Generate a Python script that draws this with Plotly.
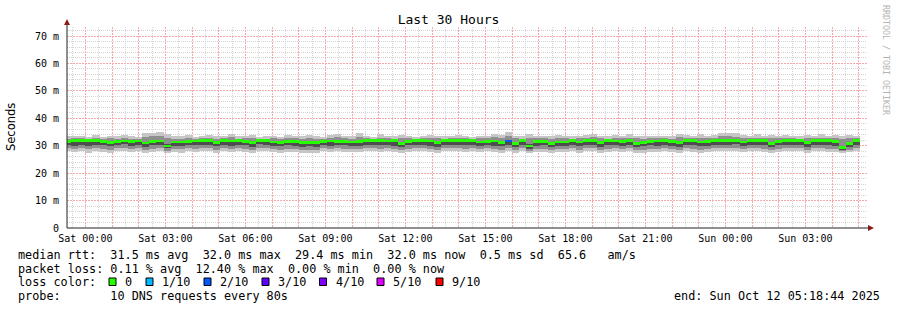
import datetime as dt
import plotly.graph_objects as go

# ---------------- data ----------------
TITLE = "Last 30 Hours"
Y_LABEL = "Seconds"
END_TIME = dt.datetime(2025, 10, 12, 5, 18, 44)
START_TIME = dt.datetime(2025, 10, 10, 23, 18, 44)
FIRST_BIN = dt.datetime(2025, 10, 10, 23, 12)
BIN_MINUTES = 16

# median rtt per 16-minute bin (ms)
median = [
    31.6, 31.9, 31.9, 32.0, 31.9, 31.6, 31.3, 31.6, 31.7, 31.6,
    31.7, 31.0, 31.6, 31.7, 29.9, 31.4, 31.4, 31.6, 31.7, 31.9,
    31.9, 31.1, 31.8, 31.7, 31.8, 31.5, 31.1, 32.0, 32.0, 31.4,
    31.3, 31.6, 31.6, 31.2, 31.2, 31.2, 31.6, 31.7, 31.6, 31.5,
    31.4, 31.5, 32.0, 31.8, 31.9, 31.7, 31.8, 30.8, 31.6, 31.9,
    31.8, 31.7, 31.1, 31.9, 31.9, 31.8, 32.0, 31.8, 31.4, 31.6,
    31.7, 31.2, 31.7, 30.8, 31.9, 29.9, 31.6, 31.6, 30.8, 31.4,
    31.4, 31.9, 31.4, 31.9, 31.8, 31.1, 31.8, 31.7, 31.6, 31.8,
    30.9, 31.2, 31.6, 31.7, 31.8, 31.6, 31.1, 31.9, 31.9, 31.4,
    31.6, 31.9, 32.0, 32.0, 31.9, 31.4, 31.9, 31.9, 31.8, 30.8,
    31.6, 31.9, 31.9, 31.8, 31.1, 31.9, 31.9, 31.9, 31.5, 29.4,
    30.8, 32.0,
]
# lost pings (out of 10) per bin
loss = [
    0, 0, 0, 0, 0, 0, 0, 0, 0, 0,
    0, 0, 0, 0, 0, 0, 0, 0, 0, 0,
    0, 0, 0, 0, 0, 0, 0, 0, 0, 0,
    0, 0, 0, 0, 0, 0, 0, 0, 0, 0,
    0, 0, 0, 0, 0, 0, 0, 0, 0, 0,
    0, 0, 0, 0, 0, 0, 0, 0, 0, 0,
    0, 0, 2, 0, 0, 0, 0, 0, 0, 0,
    0, 0, 0, 0, 0, 0, 0, 0, 0, 0,
    0, 0, 0, 0, 0, 0, 0, 0, 0, 0,
    0, 0, 0, 0, 0, 0, 0, 0, 0, 0,
    0, 0, 0, 0, 0, 0, 0, 0, 0, 0,
    0, 0,
]
# smoke: outer (min/max), middle, inner rtt spread per bin (ms)
smoke_max = [
    33.4, 33.6, 33.5, 33.2, 33.8, 33.3, 33.6, 33.4, 33.9, 33.5,
    33.3, 34.6, 34.8, 34.9, 34.2, 33.5, 33.4, 33.8, 33.3, 33.6,
    34.0, 33.5, 33.7, 34.3, 33.4, 33.6, 33.8, 33.2, 33.5, 33.7,
    33.3, 34.0, 33.6, 33.4, 33.9, 33.5, 33.3, 33.8, 34.2, 33.6,
    33.4, 34.5, 33.5, 33.3, 34.2, 33.6, 33.4, 33.9, 33.5, 33.3,
    33.7, 34.0, 33.6, 33.4, 33.5, 33.8, 33.6, 33.3, 33.5, 33.6,
    34.3, 33.8, 34.9, 33.6, 33.5, 34.2, 33.5, 33.7, 33.4, 33.8,
    33.6, 33.4, 33.5, 33.9, 34.3, 33.6, 33.4, 33.8, 33.5, 34.1,
    33.6, 33.4, 33.7, 33.5, 33.6, 33.4, 34.3, 33.8, 33.5, 34.2,
    33.6, 34.0, 34.6, 34.8, 34.5, 33.9, 33.7, 34.1, 33.5, 33.8,
    33.6, 33.9, 33.7, 33.4, 33.8, 33.5, 34.1, 33.6, 33.9, 33.5,
    33.8, 33.6,
]
smoke_hi = [
    32.6, 32.8, 32.7, 32.5, 32.9, 32.6, 32.7, 32.4, 32.8, 32.6,
    32.5, 33.2, 33.4, 33.5, 32.9, 32.6, 32.5, 32.8, 32.6, 32.7,
    32.9, 32.5, 32.8, 33.1, 32.6, 32.7, 32.8, 32.4, 32.6, 32.8,
    32.5, 33.0, 32.7, 32.6, 32.9, 32.6, 32.5, 32.8, 33.1, 32.7,
    32.5, 33.2, 32.7, 32.5, 33.0, 32.8, 32.6, 32.9, 32.7, 32.6,
    32.8, 33.0, 32.7, 32.6, 32.7, 32.9, 32.8, 32.5, 32.7, 32.8,
    33.1, 32.8, 33.5, 32.7, 32.6, 33.0, 32.7, 32.8, 32.6, 32.9,
    32.7, 32.6, 32.7, 32.9, 33.2, 32.7, 32.6, 32.9, 32.7, 33.0,
    32.7, 32.6, 32.8, 32.7, 32.8, 32.6, 33.2, 32.9, 32.7, 33.0,
    32.8, 33.0, 33.4, 33.5, 33.3, 32.9, 32.8, 33.0, 32.7, 32.9,
    32.7, 32.9, 32.8, 32.6, 32.9, 32.7, 33.0, 32.8, 32.9, 32.4,
    32.8, 32.7,
]
smoke_ihi = [
    31.9, 32.1, 32.1, 32.2, 32.1, 31.9, 31.7, 31.9, 32.0, 31.9,
    32.0, 31.5, 31.9, 32.0, 30.6, 31.7, 31.7, 31.9, 32.0, 32.1,
    32.1, 31.5, 32.0, 32.0, 32.0, 31.8, 31.5, 32.2, 32.2, 31.7,
    31.6, 31.9, 31.9, 31.5, 31.6, 31.5, 31.9, 32.0, 31.9, 31.8,
    31.7, 31.8, 32.2, 32.0, 32.1, 32.0, 32.0, 31.2, 31.9, 32.1,
    32.0, 32.0, 31.5, 32.1, 32.1, 32.0, 32.2, 32.0, 31.7, 31.9,
    32.0, 31.6, 32.0, 31.2, 32.1, 30.5, 31.9, 31.9, 31.2, 31.7,
    31.7, 32.1, 31.7, 32.1, 32.0, 31.5, 32.0, 32.0, 31.9, 32.0,
    31.3, 31.6, 31.9, 32.0, 32.0, 31.9, 31.5, 32.1, 32.1, 31.7,
    31.9, 32.1, 32.2, 32.2, 32.1, 31.7, 32.1, 32.1, 32.0, 31.2,
    31.9, 32.1, 32.1, 32.0, 31.5, 32.1, 32.1, 32.1, 31.8, 30.0,
    31.2, 32.2,
]
smoke_ilo = [
    30.2, 30.0, 30.4, 29.9, 30.3, 30.1, 29.8, 30.2, 30.5, 30.0,
    30.3, 29.7, 30.1, 30.2, 29.0, 30.0, 29.9, 30.3, 30.1, 30.4,
    30.2, 29.8, 30.3, 30.0, 30.4, 30.1, 29.7, 30.5, 30.2, 29.9,
    29.8, 30.1, 29.9, 29.6, 29.8, 29.7, 30.2, 30.0, 30.3, 30.1,
    29.9, 30.0, 30.4, 30.2, 30.1, 30.3, 30.0, 29.4, 30.1, 30.3,
    30.2, 30.0, 29.7, 30.4, 30.2, 30.3, 30.1, 30.4, 29.9, 30.2,
    30.0, 29.8, 30.3, 29.5, 30.2, 28.9, 30.0, 30.1, 29.4, 29.9,
    30.0, 30.3, 29.8, 30.2, 30.4, 29.7, 30.1, 30.3, 30.0, 30.2,
    29.6, 29.8, 30.1, 29.9, 30.2, 30.0, 29.5, 30.3, 30.1, 29.8,
    30.0, 30.2, 30.4, 30.3, 30.5, 29.9, 30.2, 30.3, 30.1, 29.5,
    30.1, 30.3, 30.2, 30.4, 29.7, 30.2, 30.3, 30.1, 30.0, 28.6,
    29.6, 30.3,
]
smoke_lo = [
    29.0, 28.8, 29.2, 28.7, 29.1, 28.9, 28.6, 29.0, 29.3, 28.8,
    29.1, 28.5, 28.9, 29.0, 28.2, 28.8, 28.7, 29.1, 28.9, 29.2,
    29.0, 28.6, 29.1, 28.8, 29.2, 28.9, 28.5, 29.3, 29.0, 28.7,
    28.6, 28.9, 28.7, 28.4, 28.6, 28.5, 29.0, 28.8, 29.1, 28.9,
    28.7, 28.8, 29.2, 29.0, 28.9, 29.1, 28.8, 28.4, 28.9, 29.1,
    29.0, 28.8, 28.5, 29.2, 29.0, 29.1, 28.9, 29.2, 28.7, 29.0,
    28.8, 28.6, 29.1, 28.4, 29.0, 28.0, 28.8, 28.9, 28.3, 28.7,
    28.8, 29.1, 28.6, 29.0, 29.2, 28.5, 28.9, 29.1, 28.8, 29.0,
    28.4, 28.6, 28.9, 28.7, 29.0, 28.8, 28.3, 29.1, 28.9, 28.6,
    28.8, 29.0, 29.2, 29.1, 29.3, 28.7, 29.0, 29.1, 28.9, 28.4,
    28.9, 29.1, 29.0, 29.2, 28.5, 29.0, 29.1, 28.9, 28.8, 27.9,
    28.6, 29.1,
]
smoke_min = [
    27.9, 27.7, 28.1, 27.5, 28.0, 27.8, 27.4, 27.9, 28.2, 27.7,
    28.0, 27.3, 27.8, 27.9, 27.3, 27.7, 27.5, 28.0, 27.8, 28.1,
    27.9, 27.5, 28.0, 27.6, 28.1, 27.8, 27.4, 28.2, 27.9, 27.6,
    27.5, 27.8, 27.6, 27.3, 27.5, 27.4, 27.9, 27.7, 28.0, 27.8,
    27.6, 27.7, 28.1, 27.9, 27.8, 28.0, 27.7, 27.4, 27.8, 28.0,
    27.9, 27.7, 27.4, 28.1, 27.9, 28.0, 27.8, 28.1, 27.6, 27.9,
    27.7, 27.5, 28.0, 27.4, 27.9, 27.2, 27.7, 27.8, 27.3, 27.6,
    27.7, 28.0, 27.5, 27.9, 28.1, 27.4, 27.8, 28.0, 27.7, 27.9,
    27.4, 27.5, 27.8, 27.6, 27.9, 27.7, 27.3, 28.0, 27.8, 27.5,
    27.7, 27.9, 28.1, 28.0, 28.2, 27.6, 27.9, 28.0, 27.8, 27.4,
    27.8, 28.0, 27.9, 28.1, 27.4, 27.9, 28.0, 27.8, 27.7, 27.2,
    27.6, 28.0,
]

y_tick_vals = [0, 10, 20, 30, 40, 50, 60, 70]
y_tick_text = ["0", "10 m", "20 m", "30 m", "40 m", "50 m", "60 m", "70 m"]
Y_MAX = 73.3

loss_labels = ["0", "1/10", "2/10", "3/10", "4/10", "5/10", "9/10"]
loss_levels = [0, 1, 2, 3, 4, 5, 9]
loss_colors = ["#26ff00", "#00b8ff", "#0059ff", "#5e00ff", "#7e00ff", "#dd00ff", "#ff0000"]

stats_rtt = "median rtt:  31.5 ms avg  32.0 ms max  29.4 ms min  32.0 ms now  0.5 ms sd  65.6   am/s"
stats_loss = "packet loss: 0.11 % avg  12.40 % max  0.00 % min  0.00 % now"
loss_head = "loss color:"
probe_text = "probe:       10 DNS requests every 80s"
end_text = "end: Sun Oct 12 05:18:44 2025"
credit = "RRDTOOL / TOBI OETIKER"

# ---------------- layout constants ----------------
W, H = 897, 310
PL, PR, PT, PB = 67, 867, 27, 228   # plot area in pixels
MONO = "DejaVu Sans Mono"


def fx(px):
    return (px - PL) / (PR - PL)


def fy(py):
    return (PB - py) / (PB - PT)


def nb(s):
    return s.replace(" ", "\u00a0")


n = len(median)
bin_w = dt.timedelta(minutes=BIN_MINUTES)
centers = [FIRST_BIN + bin_w * i + bin_w / 2 for i in range(n)]
width_ms = BIN_MINUTES * 60 * 1000

color_of = dict(zip(loss_levels, loss_colors))

# grid positions (minor ones avoid the major positions)
first_hour = dt.datetime(2025, 10, 11, 0, 0)
hour_grid = [first_hour + dt.timedelta(hours=h) for h in range(-1, 30)]
half_grid = [t + dt.timedelta(minutes=30) for t in hour_grid] + [first_hour - dt.timedelta(minutes=30)]
y_minor = [v for v in range(0, 74, 2) if v % 10 != 0]

fig = go.Figure()


def band(lo, hi, color):
    fig.add_trace(go.Bar(
        x=centers, base=lo, y=[h - l for l, h in zip(lo, hi)],
        width=width_ms, marker=dict(color=color, line=dict(width=0)),
        hoverinfo="skip", showlegend=False,
    ))


band(smoke_min, smoke_max, "#c6c6c6")
band(smoke_lo, smoke_hi, "#8f8f8f")
band(smoke_ilo, smoke_ihi, "#4e4e4e")

MED_H = 1.0
fig.add_trace(go.Bar(
    x=centers, base=[m - MED_H / 2 for m in median], y=[MED_H] * n,
    width=width_ms,
    marker=dict(color=[color_of[l] for l in loss], line=dict(width=0)),
    hoverinfo="skip", showlegend=False,
))

# helper trace for the grid axis
fig.add_trace(go.Scatter(x=[START_TIME, END_TIME], y=[0, 0], xaxis="x2",
                         mode="markers", marker=dict(opacity=0),
                         hoverinfo="skip", showlegend=False))

MAJ = "#f5aaaa"
MIN = "#d4d4d4"
MAJ_DASH = "2px,1px"
MIN_DASH = "1px,1px"

fig.update_layout(
    width=W, height=H,
    margin=dict(l=PL, r=W - PR, t=PT, b=H - PB),
    paper_bgcolor="white", plot_bgcolor="white",
    barmode="overlay", bargap=0,
    title=dict(text=TITLE, x=0.5, xanchor="center", xref="container",
               y=1 - 19 / H, yanchor="middle", yref="container",
               font=dict(family=MONO, size=13, color="black")),
    xaxis=dict(type="date", range=[START_TIME, END_TIME],
               tickformat="%a %H:%M", dtick=3 * 3600 * 1000,
               tick0="2025-10-11 00:00:00",
               showgrid=False, zeroline=False, showline=False,
               ticks="", ticklabelstandoff=3,
               tickfont=dict(family=MONO, size=10, color="black"),
               fixedrange=True),
    xaxis2=dict(type="date", range=[START_TIME, END_TIME], overlaying="x",
                anchor="y", side="bottom", showticklabels=False, ticks="",
                tickmode="array", tickvals=hour_grid,
                showgrid=True, gridcolor=MAJ, griddash=MAJ_DASH, gridwidth=1,
                minor=dict(tickmode="array", tickvals=half_grid,
                           showgrid=True, gridcolor=MIN, griddash=MIN_DASH, gridwidth=1),
                zeroline=False, showline=False),
    yaxis=dict(range=[0, Y_MAX], tickvals=y_tick_vals, ticktext=y_tick_text,
               showgrid=True, gridcolor=MAJ, griddash=MAJ_DASH, gridwidth=1,
               minor=dict(tickmode="array", tickvals=y_minor,
                          showgrid=True, gridcolor=MIN, griddash=MIN_DASH, gridwidth=1),
               zeroline=False, showline=False, ticks="", ticklabelstandoff=7,
               tickfont=dict(family=MONO, size=10, color="black")),
)

shapes = []
# axis lines (extended past the plot area like rrdtool)
shapes.append(dict(type="line", xref="paper", yref="paper",
                   x0=fx(PL), x1=fx(871), y0=0, y1=0,
                   line=dict(color="#222222", width=1)))
shapes.append(dict(type="line", xref="paper", yref="paper",
                   x0=0, x1=0, y0=0, y1=fy(21),
                   line=dict(color="#222222", width=1)))
# arrow heads
shapes.append(dict(type="path", xref="paper", yref="paper",
                   path=f"M {fx(64)} {fy(25)} L {fx(70)} {fy(25)} L {fx(67)} {fy(19)} Z",
                   fillcolor="#8b1a1a", line=dict(width=0)))
shapes.append(dict(type="path", xref="paper", yref="paper",
                   path=f"M {fx(868)} {fy(225)} L {fx(868)} {fy(231)} L {fx(874)} {fy(228)} Z",
                   fillcolor="#8b1a1a", line=dict(width=0)))

annotations = []
LEG_FONT = dict(family=MONO, size=11.8, color="black")
rows_y = [255, 268.5, 282, 296]


def text_at(px, py, s, anchor="left", font=LEG_FONT):
    annotations.append(dict(text=nb(s), x=fx(px), y=fy(py), xref="paper", yref="paper",
                            xanchor=anchor, yanchor="middle", showarrow=False, font=font))


text_at(16, rows_y[0], stats_rtt)
text_at(16, rows_y[1], stats_loss)
text_at(16, rows_y[2], loss_head)
text_at(16, rows_y[3], probe_text)
text_at(882, rows_y[3], end_text, anchor="right")

sq_x = [109, 146, 204, 262, 319.5, 377, 436]
for sx, lab, col in zip(sq_x, loss_labels, loss_colors):
    shapes.append(dict(type="rect", xref="paper", yref="paper",
                       x0=fx(sx), x1=fx(sx + 7), y0=fy(278), y1=fy(285.5),
                       fillcolor=col, line=dict(color="black", width=1)))
    text_at(sx + 14, rows_y[2], lab)

annotations.append(dict(text=Y_LABEL, x=fx(11), y=fy(127), xref="paper", yref="paper",
                        xanchor="center", yanchor="middle", textangle=-90, showarrow=False,
                        font=dict(family="DejaVu Sans", size=11.5, color="black")))
annotations.append(dict(text=nb(credit), x=fx(886), y=fy(60), xref="paper", yref="paper",
                        xanchor="center", yanchor="middle", textangle=90, showarrow=False,
                        font=dict(family=MONO, size=8.3, color="#b4b4b4")))

fig.update_layout(shapes=shapes, annotations=annotations)
fig.write_html("out.html")
